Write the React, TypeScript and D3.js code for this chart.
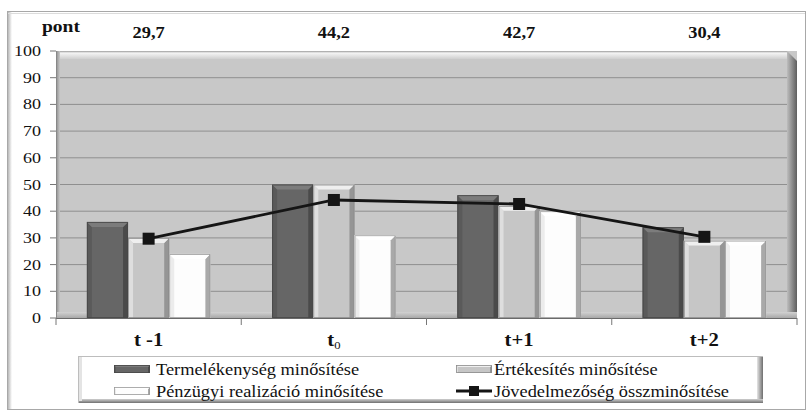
import React from "react";
import * as d3 from "d3";

const categories = ["t -1", "t0", "t+1", "t+2"];
const termelekenyseg = [36, 50, 46, 34];
const ertekesites = [30, 50, 42, 29];
const penzugyi = [24, 31, 40, 29];
const jovedelmezoseg = [29.7, 44.2, 42.7, 30.4];
const seriesNames = [
  "Termelékenység minősítése",
  "Értékesítés minősítése",
  "Pénzügyi realizáció minősítése",
  "Jövedelmezőség összminősítése",
];
const yTicks = [0, 10, 20, 30, 40, 50, 60, 70, 80, 90, 100];
const unitLabel = "pont";

const W = 807;
const H = 414;
const plot = { left: 56, right: 797, top: 51, bottom: 318 };
const FONT = '"Liberation Serif"';

type Pal = { mid: string; left: string; right: string; top: string; edge: string };
const palettes: Pal[] = [
  { mid: "#666666", left: "#5a5a5a", right: "#4a4a4a", top: "#7c7c7c", edge: "#474747" },
  { mid: "#c6c6c6", left: "#dedede", right: "#959595", top: "#efefef", edge: "#8c8c8c" },
  { mid: "#fdfdfd", left: "#ececec", right: "#a9a9a9", top: "#ffffff", edge: "#9a9a9a" },
];

function Bevel({ x, y, w, h, p, b = 5 }: { x: number; y: number; w: number; h: number; p: Pal; b?: number }) {
  const yb = y + h;
  const bb = Math.min(b, h / 2, w / 2);
  return (
    <g>
      <rect x={x} y={y} width={w} height={h} fill={p.mid} />
      <polygon points={`${x},${y} ${x + bb},${y + bb} ${x + bb},${yb} ${x},${yb}`} fill={p.left} />
      <polygon points={`${x + w},${y} ${x + w - bb},${y + bb} ${x + w - bb},${yb} ${x + w},${yb}`} fill={p.right} />
      <polygon points={`${x},${y} ${x + w},${y} ${x + w - bb},${y + bb} ${x + bb},${y + bb}`} fill={p.top} />
      <rect x={x + 0.5} y={y + 0.5} width={w - 1} height={h - 1} fill="none" stroke={p.edge} strokeWidth={0.8} />
    </g>
  );
}

function ST({ x, y, size, weight = "normal", anchor = "start", sx = 1.2, children }: any) {
  return (
    <text
      transform={`translate(${x},${y}) scale(${sx},1)`}
      style={{ fontFamily: FONT, fontSize: size, fontWeight: weight }}
      textAnchor={anchor}
      fill="#111"
    >
      {children}
    </text>
  );
}

export default function App() {
  const x0 = d3.scaleBand<string>().domain(categories).range([plot.left, plot.right]).paddingInner(0).paddingOuter(0);
  const cw = x0.bandwidth();
  const barW = cw / 4.5;
  const groupOff = (cw - 3 * barW) / 2;
  const y = d3.scaleLinear().domain([0, 100]).range([plot.bottom, plot.top]);
  const series = [termelekenyseg, ertekesites, penzugyi];

  const linePts: [number, number][] = jovedelmezoseg.map((v, i) => [x0(categories[i])! + cw / 2, y(v)]);
  const line = d3.line()(linePts) || "";

  const catBounds = categories.map((c) => x0(c)!).concat([plot.right]);

  return (
    <svg width={W} height={H} style={{ position: "absolute", left: 0, top: 0, background: "#fff" }}>
      <defs>
        <linearGradient id="wallRight" x1="0" x2="1" y1="0" y2="0">
          <stop offset="0" stopColor="#bdbdbd" />
          <stop offset="1" stopColor="#5e5e5e" />
        </linearGradient>
        <linearGradient id="wallTop" x1="0" x2="0" y1="0" y2="1">
          <stop offset="0" stopColor="#9a9a9a" />
          <stop offset="0.25" stopColor="#f4f4f4" />
          <stop offset="1" stopColor="#cfcfcf" />
        </linearGradient>
        <linearGradient id="wallLeft" x1="0" x2="1" y1="0" y2="0">
          <stop offset="0" stopColor="#8a8a8a" />
          <stop offset="1" stopColor="#c8c8c8" />
        </linearGradient>
        <linearGradient id="floor" x1="0" x2="0" y1="0" y2="1">
          <stop offset="0" stopColor="#d2d2d2" />
          <stop offset="1" stopColor="#a8a8a8" />
        </linearGradient>
        <linearGradient id="frameL" x1="0" x2="1" y1="0" y2="0">
          <stop offset="0" stopColor="#b8b8b8" />
          <stop offset="1" stopColor="#ffffff" />
        </linearGradient>
        <linearGradient id="legR" x1="0" x2="1" y1="0" y2="0">
          <stop offset="0" stopColor="#e6e6e6" />
          <stop offset="1" stopColor="#6e6e6e" />
        </linearGradient>
        <linearGradient id="legB" x1="0" x2="0" y1="0" y2="1">
          <stop offset="0" stopColor="#d0d0d0" />
          <stop offset="1" stopColor="#707070" />
        </linearGradient>
      </defs>

      {/* outer chart frame */}
      <rect x={7.5} y={11.5} width={798} height={398} fill="#fff" stroke="#a8a8a8" strokeWidth={1} />
      <rect x={8} y={12} width={4} height={397} fill="url(#frameL)" />
      <line x1={8} x2={805} y1={13.5} y2={13.5} stroke="#dcdcdc" />

      {/* plot wall */}
      <rect x={plot.left} y={plot.top} width={plot.right - plot.left} height={plot.bottom - plot.top} fill="#c8c8c8" />
      <polygon
        points={`${plot.left},${plot.top} ${plot.right - 10},${plot.top} ${plot.right - 10},${plot.top + 8} ${plot.left + 4},${plot.top + 8}`}
        fill="url(#wallTop)"
      />
      <rect x={plot.left} y={plot.top} width={4} height={plot.bottom - plot.top} fill="url(#wallLeft)" />
      <polygon
        points={`${plot.right - 10},${plot.top} ${plot.right},${plot.top + 10} ${plot.right},${plot.bottom} ${plot.right - 10},${plot.bottom}`}
        fill="url(#wallRight)"
      />

      {/* gridlines + y ticks */}
      {yTicks.map((t) => (
        <g key={t}>
          {t > 0 && t < 100 && (
            <line x1={plot.left + 4} x2={plot.right - 10} y1={y(t)} y2={y(t)} stroke="#8f8f8f" strokeWidth={1} />
          )}
          <line x1={50} x2={plot.left} y1={y(t)} y2={y(t)} stroke="#777" strokeWidth={1} />
          <ST x={41} y={y(t) + 5} size={15} anchor="end" sx={1.2}>
            {t}
          </ST>
        </g>
      ))}

      {/* floor */}
      <rect x={plot.left} y={plot.bottom - 6} width={plot.right - plot.left} height={6} fill="url(#floor)" />

      {/* bars */}
      {categories.map((c, i) =>
        series.map((s, k) => {
          const bx = x0(c)! + groupOff + k * barW;
          const by = y(s[i]);
          return <Bevel key={`${c}-${k}`} x={bx} y={by} w={barW} h={plot.bottom - by} p={palettes[k]} />;
        })
      )}

      {/* axes */}
      <line x1={plot.left} x2={plot.right} y1={plot.bottom + 0.5} y2={plot.bottom + 0.5} stroke="#6a6a6a" strokeWidth={1.2} />
      <line x1={plot.left + 0.5} x2={plot.left + 0.5} y1={plot.top} y2={plot.bottom} stroke="#888" strokeWidth={1} />
      {catBounds.map((bx, i) => (
        <line key={i} x1={bx} x2={bx} y1={plot.bottom} y2={plot.bottom + 7} stroke="#777" strokeWidth={1} />
      ))}

      {/* line series */}
      <path d={line} fill="none" stroke="#151515" strokeWidth={2.8} />
      {linePts.map(([px, py], i) => (
        <rect key={i} x={px - 6} y={py - 6} width={12} height={12} fill="#151515" />
      ))}

      {/* category labels */}
      {categories.map((c, i) => {
        const cx = x0(c)! + cw / 2;
        if (c === "t0") {
          return (
            <text
              key={c}
              transform={`translate(${cx},346) scale(1.15,1)`}
              style={{ fontFamily: FONT, fontSize: 18, fontWeight: "bold" }}
              textAnchor="middle"
              fill="#111"
            >
              t
              <tspan style={{ fontSize: 11, fontWeight: "normal" }} dy={3}>
                0
              </tspan>
            </text>
          );
        }
        return (
          <ST key={c} x={cx} y={346} size={18} weight="bold" anchor="middle" sx={1.15}>
            {c}
          </ST>
        );
      })}

      {/* value labels on top */}
      <ST x={42} y={32} size={17} weight="bold" sx={1.15}>
        {unitLabel}
      </ST>
      {jovedelmezoseg.map((v, i) => (
        <ST key={i} x={x0(categories[i])! + cw / 2} y={38} size={16} weight="bold" anchor="middle" sx={1.15}>
          {d3.format(".1f")(v).replace(".", ",")}
        </ST>
      ))}

      {/* legend */}
      <g>
        <rect x={78} y={356} width={685} height={47} fill="#fff" />
        <rect x={78.5} y={356.5} width={684} height={46} fill="none" stroke="#bdbdbd" />
        <rect x={757} y={357} width={6} height={46} fill="url(#legR)" />
        <rect x={79} y={399} width={684} height={4} fill="url(#legB)" />
        <rect x={79} y={357} width={3} height={44} fill="#e4e4e4" />
        <Bevel x={114} y={365} w={36} h={8} p={palettes[0]} b={2} />
        <Bevel x={456} y={365} w={36} h={8} p={palettes[1]} b={2} />
        <Bevel x={114} y={387} w={36} h={8} p={palettes[2]} b={2} />
        <line x1={456} x2={492} y1={391} y2={391} stroke="#151515" strokeWidth={2.8} />
        <rect x={469} y={386} width={10} height={10} fill="#151515" />
        <ST x={156} y={375} size={17} sx={1.08}>{seriesNames[0]}</ST>
        <ST x={494} y={375} size={17} sx={1.08}>{seriesNames[1]}</ST>
        <ST x={156} y={397} size={17} sx={1.08}>{seriesNames[2]}</ST>
        <ST x={494} y={397} size={17} sx={1.08}>{seriesNames[3]}</ST>
      </g>
    </svg>
  );
}
